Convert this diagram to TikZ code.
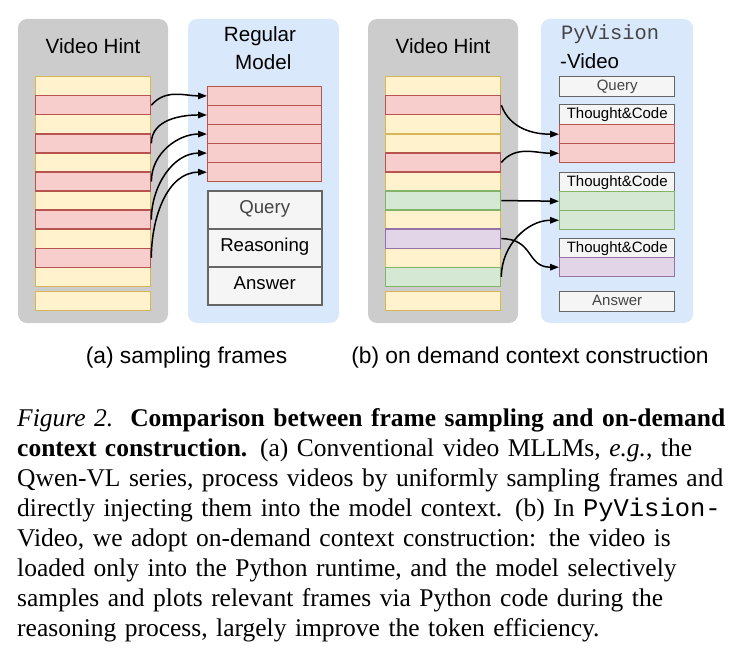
\documentclass[tikz,border=0pt]{standalone}
\usepackage{fontspec}
\setmainfont{Liberation Serif}
\setsansfont{Liberation Sans}
\setmonofont{Liberation Mono}
\usetikzlibrary{arrows.meta}
\definecolor{panelgray}{HTML}{CCCCCC}
\definecolor{panelblue}{HTML}{DAE8FC}
\definecolor{yelfill}{HTML}{FFF2CC}
\definecolor{yeldraw}{HTML}{D6B656}
\definecolor{redfill}{HTML}{F8CECC}
\definecolor{reddraw}{HTML}{B85450}
\definecolor{grnfill}{HTML}{D5E8D4}
\definecolor{grndraw}{HTML}{82B366}
\definecolor{purfill}{HTML}{E1D5E7}
\definecolor{purdraw}{HTML}{9673A6}
\definecolor{boxfill}{HTML}{F5F5F5}
\definecolor{boxdraw}{HTML}{666666}
\definecolor{softtext}{HTML}{444444}
\begin{document}
\begin{tikzpicture}[x=1pt,y=-1pt,
  stripbase/.style={draw, line width=1.35pt, inner sep=0pt, anchor=north west,
    minimum height=19.06pt},
  ystrip/.style={stripbase, fill=yelfill, draw=yeldraw, minimum width=115pt},
  rstrip/.style={stripbase, fill=redfill, draw=reddraw, minimum width=115pt},
  gstrip/.style={stripbase, fill=grnfill, draw=grndraw, minimum width=115pt},
  pstrip/.style={stripbase, fill=purfill, draw=purdraw, minimum width=115pt},
  bigbox/.style={draw=boxdraw, fill=boxfill, line width=1.5pt, inner sep=0pt,
    anchor=north west, minimum width=114pt, minimum height=38pt,
    font=\sffamily\fontsize{18.6}{22}\selectfont, text height=0.72em, text depth=0pt},
  smallbox/.style={draw=boxdraw, fill=boxfill, line width=1.4pt, inner sep=0pt,
    anchor=north west, minimum width=115pt, minimum height=19.5pt,
    font=\sffamily\fontsize{15}{18}\selectfont, text height=0.72em, text depth=0pt},
  title/.style={anchor=base, inner sep=0pt, font=\sffamily\fontsize{20.6}{24}\selectfont},
  subcap/.style={anchor=base, inner sep=0pt, font=\sffamily\fontsize{22.8}{27}\selectfont},
  arr/.style={line width=1.5pt, -{Triangle[length=9pt,width=6.5pt]}}
]
\useasboundingbox (0,0) rectangle (739,661);

% ---------- panel (a) ----------
\fill[panelgray, rounded corners=9pt] (18,19) rectangle (168,323);
\fill[panelblue, rounded corners=9pt] (188,19) rectangle (339,323);
\node[title] (vha) at (93,54) {Video Hint};
\node[title] (rega) at (260,41.7) {Regular};
\node[title] (moda) at (263.3,69.3) {Model};

\foreach \i in {0,2,4,6,8,10}
  \node[ystrip] (fa\i) at (35,{76+19.06*\i}) {};
\foreach \i in {1,3,5,7,9}
  \node[rstrip] (fa\i) at (35,{76+19.06*\i}) {};
\node[ystrip] (fa11) at (35,291) {};

\foreach \k in {0,...,4}
  \node[rstrip, minimum width=114pt] (ma\k) at (207,{85.7+19.07*\k}) {};

\node[bigbox, text=softtext] (qa) at (207,190) {Query};
\node[bigbox] (ra) at (207,228) {Reasoning};
\node[bigbox] (aa) at (207,266) {Answer};

\draw[arr] (fa1.east) to[out=50,in=180] (ma0.west);
\draw[arr] (fa3.east) to[out=90,in=180] (ma1.west);
\draw[arr] (fa5.east) to[out=90,in=180] (ma2.west);
\draw[arr] (fa7.east) to[out=90,in=180] (ma3.west);
\draw[arr] (fa9.east) to[out=90,in=180] (ma4.west);

% ---------- panel (b) ----------
\fill[panelgray, rounded corners=9pt] (368,19) rectangle (518,323);
\fill[panelblue, rounded corners=9pt] (541,19) rectangle (693,323);
\node[title] (vhb) at (443,54) {Video Hint};
\node[anchor=base west, inner sep=0pt, text=softtext,
  font=\ttfamily\fontsize{20.4}{24}\selectfont] (pyv) at (561,39.3) {PyVision};
\node[anchor=base west, inner sep=0pt,
  font=\sffamily\fontsize{20.5}{24}\selectfont] (vidb) at (560,68.3) {-Video};

\foreach \i in {0,2,3,5,7,9}
  \node[ystrip] (fb\i) at (385,{76+19.06*\i}) {};
\foreach \i in {1,4}
  \node[rstrip] (fb\i) at (385,{76+19.06*\i}) {};
\foreach \i in {6,10}
  \node[gstrip] (fb\i) at (385,{76+19.06*\i}) {};
\node[pstrip] (fb8) at (385,{76+19.06*8}) {};
\node[ystrip] (fb11) at (385,291) {};

\node[smallbox, text=softtext] (qb) at (559,76) {Query};
\node[smallbox] (tc1) at (559,104) {Thought\&Code};
\node[rstrip] (rb1) at (559,124) {};
\node[rstrip] (rb2) at (559,143.06) {};
\node[smallbox] (tc2) at (559,172) {Thought\&Code};
\node[gstrip] (gb1) at (559,191) {};
\node[gstrip] (gb2) at (559,210.06) {};
\node[smallbox] (tc3) at (559,238) {Thought\&Code};
\node[pstrip] (pb1) at (559,257) {};
\node[smallbox, text=softtext] (ab) at (559,291) {Answer};

\draw[arr] (fb1.east) to[out=-70,in=180] (rb1.west);
\draw[arr] (fb4.east) to[out=50,in=180] (rb2.west);
\draw[arr] (fb6.east) -- (gb1.west);
\draw[arr] (fb10.east) to[out=90,in=180] (gb2.west);
\draw[arr] (fb8.east) to[out=0,in=180,looseness=1.3] (pb1.west);

% ---------- sub-captions ----------
\node[subcap] (capa) at (186.5,363) {(a) sampling frames};
\node[subcap] (capb) at (530,363) {(b) on demand context construction};

% ---------- caption ----------
\node[anchor=base west, inner sep=0pt, text width=702pt,
  font=\rmfamily\fontsize{25.5}{30}\selectfont] (caption) at (17,426) {%
\makebox[702pt][s]{\textit{Figure 2.}\ \ \textbf{Comparison between frame sampling and on-demand}}\\
\makebox[702pt][s]{\textbf{context construction.} (a) Conventional video MLLMs, \textit{e.g.}, the}\\
\makebox[702pt][s]{Qwen-VL series, process videos by uniformly sampling frames and}\\
\makebox[702pt][s]{directly injecting them into the model context. (b) In \texttt{PyVision-}}\\
\makebox[702pt][s]{Video, we adopt on-demand context construction: the video is}\\
\makebox[702pt][s]{loaded only into the Python runtime, and the model selectively}\\
\makebox[702pt][s]{samples and plots relevant frames via Python code during the}\\
reasoning process, largely improve the token efficiency.};
\end{tikzpicture}
\end{document}
